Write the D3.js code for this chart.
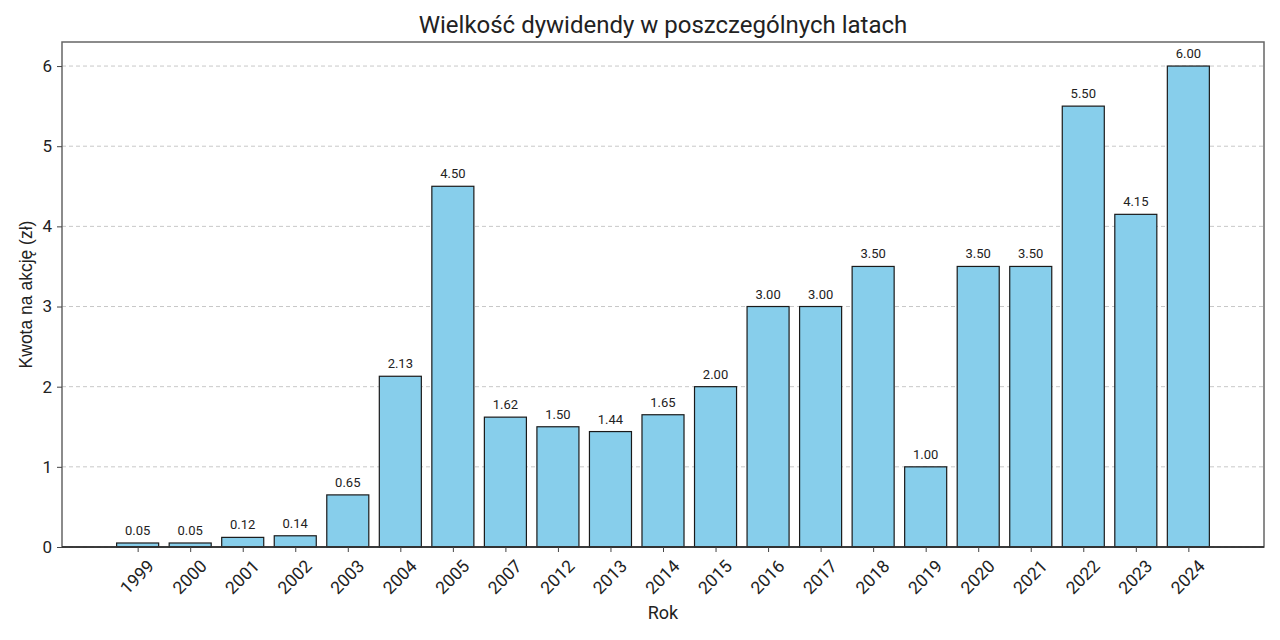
<!DOCTYPE html>
<html>
<head>
<meta charset="utf-8">
<script src="https://cdn.jsdelivr.net/npm/d3@7/dist/d3.min.js"></script>
<style>
  body { margin: 0; background: #fff; }
  svg text { font-family: Roboto, "Open Sans", sans-serif; fill: #222; }
</style>
</head>
<body>
<svg id="chart" width="1280" height="640"></svg>
<script>
// dane
const years = ['1999', '2000', '2001', '2002', '2003', '2004', '2005', '2007', '2012', '2013', '2014',
               '2015', '2016', '2017', '2018', '2019', '2020', '2021', '2022', '2023', '2024'];
const dividends = [0.05, 0.05, 0.12, 0.14, 0.65, 2.13, 4.50, 1.62, 1.50, 1.44, 1.65,
                   2.00, 3.00, 3.00, 3.50, 1.00, 3.50, 3.50, 5.50, 4.15, 6.00];
const yTicks = [0, 1, 2, 3, 4, 5, 6];

const svg = d3.select('#chart');
const margin = {left: 62, top: 42, right: 16, bottom: 93};
const width = 1280, height = 640;

// x jak w matplotlib: indeksy słupków, margines 5%
const n = years.length;
const x = d3.scaleLinear()
    .domain([-0.4 - 0.05 * (n - 0.2), n - 0.6 + 0.05 * (n - 0.2)])
    .range([margin.left, width - margin.right]);
const y = d3.scaleLinear()
    .domain([0, d3.max(dividends) * 1.05])
    .range([height - margin.bottom, margin.top]);
const barW = x(0.8) - x(0);

// siatka
svg.append('g')
    .selectAll('line')
    .data(yTicks)
    .join('line')
    .attr('x1', margin.left).attr('x2', width - margin.right)
    .attr('y1', d => y(d)).attr('y2', d => y(d))
    .attr('stroke', '#c8c8c8')
    .attr('stroke-width', 1)
    .attr('stroke-dasharray', '4,3');

// słupki
svg.append('g')
    .selectAll('rect')
    .data(dividends)
    .join('rect')
    .attr('x', (d, i) => x(i) - barW / 2)
    .attr('y', d => y(d))
    .attr('width', barW)
    .attr('height', d => y(0) - y(d))
    .attr('fill', '#87ceeb')
    .attr('stroke', '#1a1a1a')
    .attr('stroke-width', 1.2);

// wartości nad słupkami
svg.append('g')
    .selectAll('text')
    .data(dividends)
    .join('text')
    .attr('x', (d, i) => x(i))
    .attr('y', d => y(d) - 8)
    .attr('text-anchor', 'middle')
    .attr('font-size', 13)
    .attr('fill', '#333')
    .text(d => d.toFixed(2));

// ramka
svg.append('rect')
    .attr('x', margin.left).attr('y', margin.top)
    .attr('width', width - margin.left - margin.right)
    .attr('height', height - margin.top - margin.bottom)
    .attr('fill', 'none')
    .attr('stroke', '#666')
    .attr('stroke-width', 1.5);
svg.append('line')
    .attr('x1', margin.left).attr('x2', width - margin.right)
    .attr('y1', y(0)).attr('y2', y(0))
    .attr('stroke', '#222').attr('stroke-width', 1.5);

// oś y
const yAxis = svg.append('g')
    .attr('transform', `translate(${margin.left},0)`)
    .call(d3.axisLeft(y).tickValues(yTicks).tickFormat(d3.format('d')).tickSize(5).tickPadding(5));
yAxis.select('.domain').remove();
yAxis.selectAll('line').attr('stroke', '#444');
yAxis.selectAll('text').attr('font-size', 17).attr('fill', '#222')
    .style('font-family', 'Roboto, sans-serif');

// oś x
const xAxis = svg.append('g')
    .attr('transform', `translate(0,${y(0)})`)
    .call(d3.axisBottom(x).tickValues(d3.range(n)).tickFormat(i => years[i]).tickSize(5));
xAxis.select('.domain').remove();
xAxis.selectAll('line').attr('stroke', '#444');
xAxis.selectAll('text')
    .attr('font-size', 17.5)
    .attr('fill', '#222')
    .attr('text-anchor', 'middle')
    .attr('dy', null)
    .attr('y', 0)
    .attr('transform', 'translate(0,31) rotate(-45)')
    .attr('dominant-baseline', 'middle');

// tytuł i podpisy osi
svg.append('text')
    .attr('x', (margin.left + width - margin.right) / 2)
    .attr('y', 33)
    .attr('text-anchor', 'middle')
    .attr('font-size', 24)
    .attr('fill', '#111')
    .text('Wielkość dywidendy w poszczególnych latach');

svg.append('text')
    .attr('x', (margin.left + width - margin.right) / 2)
    .attr('y', 619)
    .attr('text-anchor', 'middle')
    .attr('font-size', 18)
    .text('Rok');

svg.append('text')
    .attr('transform', `translate(32,${(margin.top + y(0)) / 2}) rotate(-90)`)
    .attr('text-anchor', 'middle')
    .attr('font-size', 17.5)
    .style('font-family', '"Liberation Sans", Arial, sans-serif')
    .text('Kwota na akcję (zł)');
</script>
</body>
</html>
